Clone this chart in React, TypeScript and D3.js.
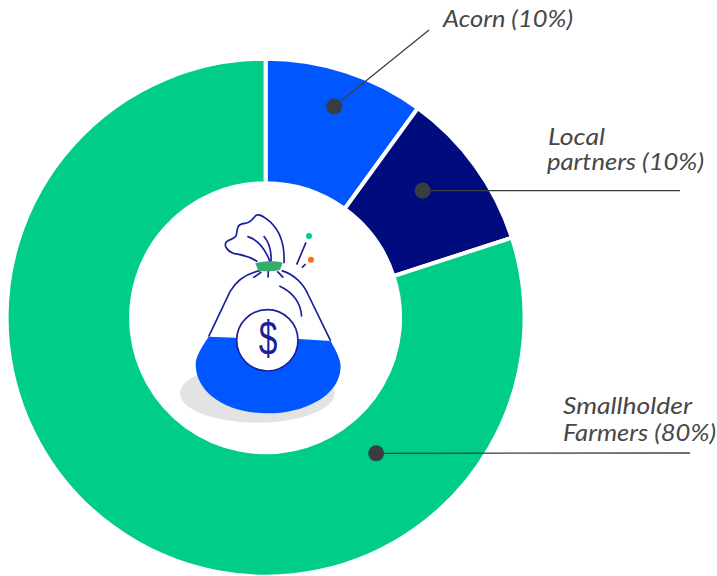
import React from "react";
import * as d3 from "d3";

const categories = ["Acorn", "Local partners", "Smallholder Farmers"];
const shares = [10, 10, 80];
const colors = ["#0057ff", "#000c7d", "#00cd87"];
const dotRadius = [222, 202, 175];
const dotAngleDeg = [18, 51, 140.8];
const leaderEnds: [number, number][] = [[429, 30], [680, 190.6], [690, 453]];
const labelLines = [
  [{ t: "Acorn (10%)", x: 443, y: 27, w: 130 }],
  [{ t: "Local", x: 548, y: 145, w: 57 }, { t: "partners (10%)", x: 547, y: 170, w: 157 }],
  [{ t: "Smallholder", x: 563, y: 414, w: 129 }, { t: "Farmers (80%)", x: 563, y: 441, w: 153 }],
];

const W = 717, H = 576, cx = 265.6, cy = 317.7, R = 259, r = 134.5;

export default function App() {
  const pie = d3.pie<number>().sort(null)(shares);
  const arc = d3.arc<d3.PieArcDatum<number>>().innerRadius(r).outerRadius(R);
  const line = d3.line();
  const ink = "#1a1f9c";
  const sw = 5;
  return (
    <svg width={W} height={H} style={{ position: "absolute", left: 0, top: 0, background: "#fff" }}>
      <g transform={`translate(${cx},${cy})`}>
        {pie.map((d, i) => (
          <path key={categories[i]} d={arc(d)!} fill={colors[i]} stroke="#fff" strokeWidth={4} />
        ))}
      </g>

      <g transform="translate(170,200) scale(0.3333)" fill="none">
        <ellipse cx="262" cy="580" rx="232" ry="88" fill="#e3e3e3" />
        <path d="M116,410 L195,413 L385,417 L482,423 C500,455 512,480 512,500 C510,590 400,640 292,640 C170,640 76,580 77,490 C78,470 95,440 116,410 Z" fill="#0057ff" />
        <path d="M116,410 L180,275 C200,240 235,220 270,212" stroke={ink} strokeWidth={sw} />
        <path d="M335,212 C370,222 400,250 415,285 L482,423" stroke={ink} strokeWidth={sw} />
        <path d="M262,185 C240,168 215,165 190,160 C170,152 160,135 170,125 C180,115 198,120 200,100 C203,85 200,72 225,70 C245,68 248,55 258,46 C270,40 285,52 300,65 C325,88 345,130 342,190" stroke={ink} strokeWidth={sw} />
        <path d="M232,109 C262,118 285,145 300,185" stroke={ink} strokeWidth={sw} />
        <path d="M281,108 C298,128 305,155 303,185" stroke={ink} strokeWidth={sw} />
        <path d="M274,216 L250,233 M295,212 L294,233 M322,214 L340,233" stroke={ink} strokeWidth={sw} />
        <path d="M328,258 C365,275 392,305 395,350" stroke={ink} strokeWidth={sw} />
        <path d="M408,127 L380,194 M407,192 L396,203" stroke={ink} strokeWidth={sw} />
        <path d="M256,190 C285,182 315,183 338,188 L330,210 C310,215 285,215 265,212 Z" fill="#36ab6e" />
        <circle cx="417" cy="108" r="9" fill="#00cd87" />
        <circle cx="423" cy="179" r="9" fill="#ff6a13" />
        <circle cx="292" cy="421" r="92" fill="#fff" stroke={ink} strokeWidth={sw} />
        <text transform="translate(294,466) scale(0.9,1.28)" textAnchor="middle" fontFamily="'Liberation Sans', sans-serif" fontSize="112" fill={ink}>$</text>
      </g>

      {categories.map((c, i) => {
        const a = (dotAngleDeg[i] * Math.PI) / 180;
        const p: [number, number] = [cx + dotRadius[i] * Math.sin(a), cy - dotRadius[i] * Math.cos(a)];
        return (
          <g key={c}>
            <path d={line([p, leaderEnds[i]])!} stroke="#3c3f41" strokeWidth={1.3} fill="none" />
            <circle cx={p[0]} cy={p[1]} r={8} fill="#3a3d3f" />
          </g>
        );
      })}

      {labelLines.flat().map((l) => (
        <text key={l.t} x={l.x} y={l.y} fontFamily="Lato, sans-serif" fontStyle="italic" fontSize={24}
          fill="#474747" textLength={l.w} lengthAdjust="spacingAndGlyphs">{l.t}</text>
      ))}
    </svg>
  );
}
